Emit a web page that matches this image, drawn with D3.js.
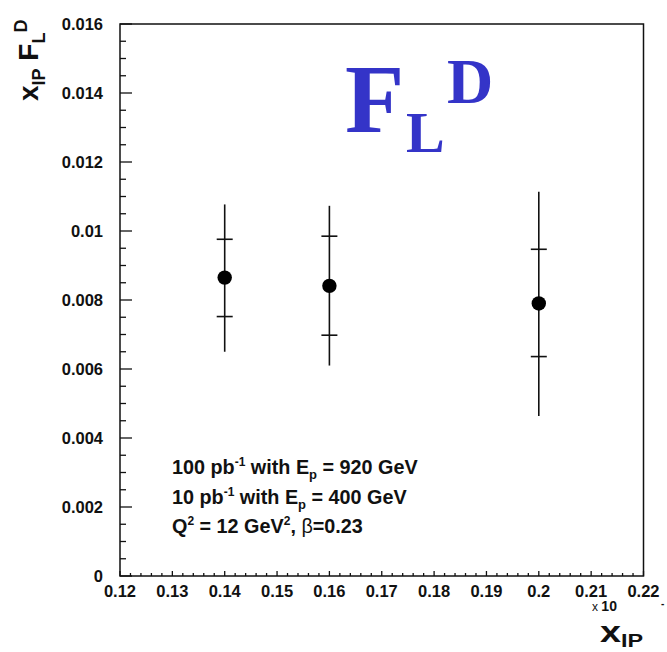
<!DOCTYPE html>
<html><head><meta charset="utf-8">
<script src="https://cdn.jsdelivr.net/npm/d3@7/dist/d3.min.js"></script>
<style>
html,body{margin:0;padding:0;background:#fff;}
svg{display:block;}
</style></head>
<body>
<script>
// ---- data ----
const xIP      = [0.14, 0.16, 0.20];
const FLD      = [0.00865, 0.00841, 0.00790];
const innerLo  = [0.00752, 0.00698, 0.00636];
const innerHi  = [0.00976, 0.00985, 0.00947];
const outerLo  = [0.00650, 0.00610, 0.00464];
const outerHi  = [0.01077, 0.01073, 0.01114];
const xTicks   = [0.12,0.13,0.14,0.15,0.16,0.17,0.18,0.19,0.20,0.21,0.22];
const yTicks   = [0,0.002,0.004,0.006,0.008,0.010,0.012,0.014,0.016];

const W=667,H=652;
const L=120,R=643.5,T=24,B=576;
const SANS="'Liberation Sans',Arial,Helvetica,sans-serif";
const SERIF="'Liberation Serif','Times New Roman',serif";
const svg=d3.select("body").append("svg").attr("width",W).attr("height",H)
  .attr("font-family",SANS);
svg.append("rect").attr("width",W).attr("height",H).attr("fill","#fff");

const x=d3.scaleLinear().domain([0.12,0.22]).range([L,R]);
const y=d3.scaleLinear().domain([0,0.016]).range([B,T]);
const ink="#111";

// minor ticks
const yMinor=d3.range(0,0.016+1e-9,0.0005);
svg.append("g").selectAll("line").data(yMinor).join("line")
  .attr("x1",L).attr("x2",d=>L+(Math.abs(d/0.002-Math.round(d/0.002))<1e-6?12:6))
  .attr("y1",d=>y(d)).attr("y2",d=>y(d)).attr("stroke",ink).attr("stroke-width",1.3);
const xMinor=d3.range(0.12,0.22+1e-9,0.002);
svg.append("g").selectAll("line").data(xMinor).join("line")
  .attr("x1",d=>x(d)).attr("x2",d=>x(d)).attr("y1",B)
  .attr("y2",d=>B-(Math.abs(d/0.01-Math.round(d/0.01))<1e-6?5:3))
  .attr("stroke",ink).attr("stroke-width",1.3);

// frame
svg.append("rect").attr("x",L).attr("y",T).attr("width",R-L).attr("height",B-T)
  .attr("fill","none").attr("stroke",ink).attr("stroke-width",1.5);

// axes labels
const fmtY=d=>String(+d.toFixed(3));
const fmtX=d=>String(+d.toFixed(2));
svg.append("g").selectAll("text").data(yTicks).join("text")
  .attr("x",103).attr("y",d=>y(d)+6).attr("text-anchor","end")
  .attr("font-size",16.5).attr("font-weight","bold").attr("fill",ink).text(fmtY);
svg.append("g").selectAll("text").data(xTicks).join("text")
  .attr("x",d=>x(d)).attr("y",597).attr("text-anchor","middle")
  .attr("font-size",16.5).attr("font-weight","bold").attr("fill",ink).text(fmtX);

// error bars & points
const g=svg.append("g");
xIP.forEach((xv,i)=>{
  const cx=x(xv);
  g.append("line").attr("x1",cx).attr("x2",cx).attr("y1",y(outerLo[i])).attr("y2",y(outerHi[i]))
   .attr("stroke",ink).attr("stroke-width",1.6);
  [innerLo[i],innerHi[i]].forEach(v=>{
    g.append("line").attr("x1",cx-8).attr("x2",cx+8).attr("y1",y(v)).attr("y2",y(v))
     .attr("stroke",ink).attr("stroke-width",1.6);
  });
  g.append("circle").attr("cx",cx).attr("cy",y(FLD[i])).attr("r",7.2).attr("fill","#000");
});

// info text
const info=svg.append("g").attr("font-size",19.8).attr("font-weight","bold").attr("fill",ink);
function line(yy,parts){
  const t=info.append("text").attr("x",172).attr("y",yy);
  parts.forEach(p=>{
    const s=t.append("tspan").text(p[0]);
    if(p[1]==="sup") s.attr("dy",-8).attr("font-size",12);
    else if(p[1]==="sub") s.attr("dy",5).attr("font-size",13);
    else if(p[1]==="up") s.attr("dy",8);
    else if(p[1]==="down") s.attr("dy",-5);
    if(p[2]) s.attr("font-weight",p[2]);
  });
}
line(474,[["100 pb"],["-1","sup"],[" with E","up"],["p","sub"],[" = 920 GeV","down"]]);
line(504,[["10 pb"],["-1","sup"],[" with E","up"],["p","sub"],[" = 400 GeV","down"]]);
line(533,[["Q"],["2","sup"],[" = 12 GeV","up"],["2","sup"],[", ","up"],["β",null,"normal"],["=0.23"]]);

// big F_L^D
const blue="#3434c8";
const big=svg.append("g").attr("fill",blue).attr("font-family",SERIF).attr("font-weight","bold");
big.append("text").attr("x",345).attr("y",132).attr("font-size",97).text("F");
big.append("text").attr("x",406).attr("y",152).attr("font-size",58).text("L");
big.append("text").attr("x",447).attr("y",103).attr("font-size",64).text("D");

// y title
const yt=svg.append("text").attr("transform","translate(38,101) rotate(-90)")
  .attr("font-size",28).attr("font-weight","bold").attr("fill",ink);
yt.append("tspan").text("x");
yt.append("tspan").attr("dy",7).attr("font-size",18).text("IP");
yt.append("tspan").attr("dy",-7).text(" F");
yt.append("tspan").attr("dy",7).attr("font-size",18).text("L");
yt.append("tspan").attr("dy",-18).attr("font-size",18).text("D");

// x title
const xt=svg.append("g").attr("transform","translate(600,642) scale(1.3,1)");
const xtt=xt.append("text").attr("font-size",29).attr("font-weight","bold").attr("fill",ink);
xtt.append("tspan").text("x");
xtt.append("tspan").attr("dy",5).attr("font-size",18).text("IP");
const mult=svg.append("text").attr("x",592).attr("y",611).attr("fill",ink);
mult.append("tspan").attr("font-size",12).text("x ");
mult.append("tspan").attr("font-size",14).attr("font-weight","bold").text("10");
svg.append("text").attr("x",661).attr("y",607).attr("font-size",10).attr("font-weight","bold").attr("fill",ink).text("-");
</script>
</body></html>
